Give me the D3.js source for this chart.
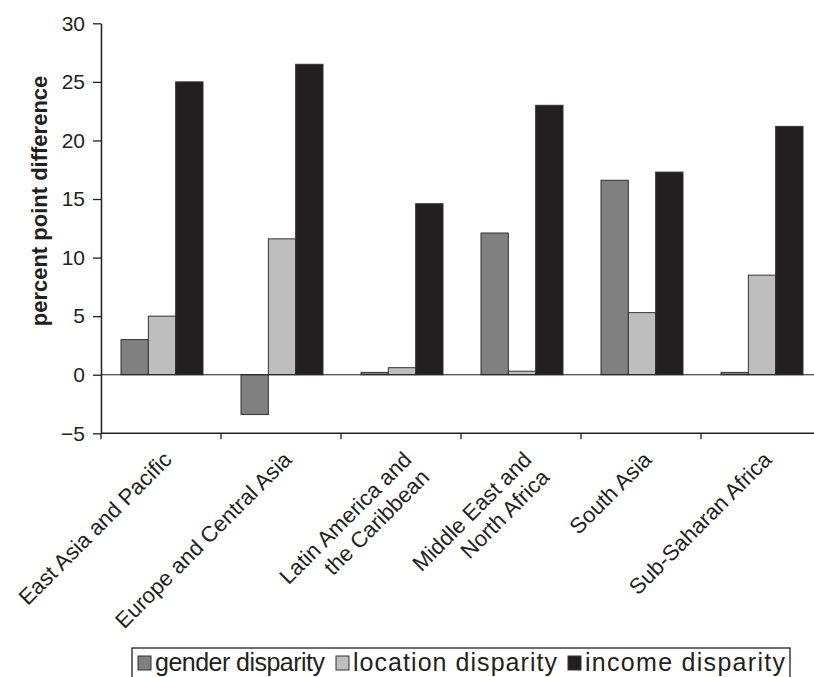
<!DOCTYPE html>
<html>
<head>
<meta charset="utf-8">
<script src="https://cdn.jsdelivr.net/npm/d3@7/dist/d3.min.js"></script>
<style>
  html, body { margin: 0; padding: 0; background: #fff; }
  svg { display: block; font-family: "Liberation Sans", Arial, Helvetica, sans-serif; }
</style>
</head>
<body>
<svg id="chart" width="814" height="677"></svg>
<script>
// Regions (multi-line labels split on "\n")
const regions = [
  "East Asia and Pacific",
  "Europe and Central Asia",
  "Latin America and\nthe Caribbean",
  "Middle East and\nNorth Africa",
  "South Asia",
  "Sub-Saharan Africa"
];

const seriesNames = ["gender disparity", "location disparity", "income disparity"];
const seriesColors = ["#808080", "#bebebe", "#231f20"];

// Percent point differences per region
const genderDisparity   = [3.0, -3.4, 0.2, 12.1, 16.6, 0.2];
const locationDisparity = [5.0, 11.6, 0.6, 0.3, 5.3, 8.5];
const incomeDisparity   = [25.0, 26.5, 14.6, 23.0, 17.3, 21.2];

const yTicks = [-5, 0, 5, 10, 15, 20, 25, 30];

const seriesValues = [genderDisparity, locationDisparity, incomeDisparity];

const svg = d3.select("#chart");
const ink = "#231f20";

const x = d3.scaleBand().domain(regions).range([101, 821]).paddingInner(0).paddingOuter(0);
const xs = d3.scaleBand().domain(seriesNames).range([20, 102]).padding(0);
const y = d3.scaleLinear().domain([-5, 30]).range([433.3, 23.3]);

// Bars
const groups = svg.append("g").selectAll("g")
  .data(regions)
  .join("g")
  .attr("transform", d => `translate(${x(d)},0)`);

groups.selectAll("rect")
  .data((d, i) => seriesNames.map((s, j) => ({ s, j, v: seriesValues[j][i] })))
  .join("rect")
  .attr("x", d => xs(d.s))
  .attr("width", xs.bandwidth())
  .attr("y", d => y(Math.max(0, d.v)))
  .attr("height", d => Math.abs(y(d.v) - y(0)))
  .attr("fill", d => seriesColors[d.j])
  .attr("stroke", "#333")
  .attr("stroke-width", 1);

// Zero line
svg.append("line")
  .attr("x1", 101).attr("x2", 821)
  .attr("y1", y(0)).attr("y2", y(0))
  .attr("stroke", ink).attr("stroke-width", 1.2);

// Y axis
const yAxis = svg.append("g")
  .attr("transform", "translate(101,0)")
  .call(d3.axisLeft(y).tickValues(yTicks).tickSize(8).tickSizeOuter(0).tickPadding(8)
    .tickFormat(d3.format("d")));
yAxis.select(".domain").attr("stroke", ink).attr("stroke-width", 1.5);
yAxis.selectAll(".tick line").attr("stroke", ink).attr("stroke-width", 1.3);
yAxis.selectAll(".tick text").attr("fill", ink).style("font-size", "21px");

// X axis line and boundary ticks
const xBase = y(-5);
svg.append("line")
  .attr("x1", 101).attr("x2", 821)
  .attr("y1", xBase).attr("y2", xBase)
  .attr("stroke", ink).attr("stroke-width", 1.5);
svg.append("g").selectAll("line")
  .data(regions)
  .join("line")
  .attr("x1", d => x(d)).attr("x2", d => x(d))
  .attr("y1", xBase).attr("y2", xBase + 6)
  .attr("stroke", ink).attr("stroke-width", 1.3);

// Rotated category labels
const lab = svg.append("g").selectAll("text")
  .data(regions)
  .join("text")
  .attr("transform", d => `translate(${x(d) + x.bandwidth() / 2 + 12},461) rotate(-45)`)
  .attr("text-anchor", "end")
  .attr("fill", ink)
  .style("font-size", "22px");
lab.selectAll("tspan")
  .data(d => d.split("\n"))
  .join("tspan")
  .attr("x", 0)
  .attr("dy", (d, i) => i === 0 ? 0 : 25)
  .text(d => d);

// Y axis title
svg.append("text")
  .attr("transform", "translate(47,201) rotate(-90)")
  .attr("text-anchor", "middle")
  .attr("fill", ink)
  .style("font-size", "22px")
  .style("font-weight", "bold")
  .text("percent point difference");

// Legend
const legend = svg.append("g");
legend.append("rect")
  .attr("x", 132).attr("y", 648)
  .attr("width", 658).attr("height", 40)
  .attr("fill", "none").attr("stroke", ink).attr("stroke-width", 1.3);

const legendX = [138, 336, 568];
const legendTextWidth = [170, 204, 200];
const items = legend.selectAll("g.item")
  .data(seriesNames)
  .join("g")
  .attr("class", "item")
  .attr("transform", (d, i) => `translate(${legendX[i]},0)`);
items.append("rect")
  .attr("x", 0).attr("y", 656)
  .attr("width", 13).attr("height", 14)
  .attr("fill", (d, i) => seriesColors[i])
  .attr("stroke", "#333").attr("stroke-width", 1);
items.append("text")
  .attr("x", 17).attr("y", 671)
  .attr("fill", ink)
  .attr("textLength", (d, i) => legendTextWidth[i])
  .attr("lengthAdjust", "spacing")
  .style("font-size", "25px")
  .text(d => d);
</script>
</body>
</html>
